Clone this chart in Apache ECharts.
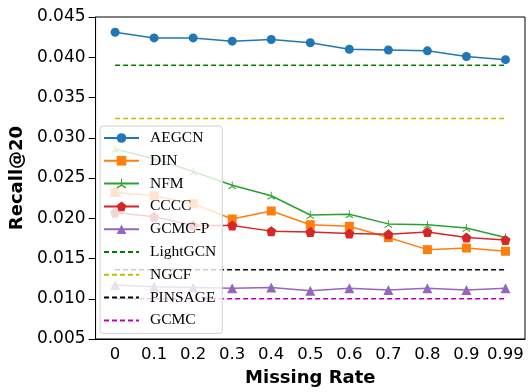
<!DOCTYPE html>
<html>
<head>
<meta charset="utf-8">
<script src="https://cdn.jsdelivr.net/npm/echarts@6/dist/echarts.min.js"></script>
<style>
  html, body { margin: 0; padding: 0; background: #fff; }
  #main { width: 528px; height: 392px; }
</style>
</head>
<body>
<div id="main"></div>
<script>
var RATES = ['0', '0.1', '0.2', '0.3', '0.4', '0.5', '0.6', '0.7', '0.8', '0.9', '0.99'];
var AEGCN = [0.0431, 0.0424, 0.0424, 0.0420, 0.0422, 0.0418, 0.0410, 0.0409, 0.0408, 0.0401, 0.0397];
var DIN = [0.0232, 0.0228, 0.0218, 0.0199, 0.0209, 0.0192, 0.0190, 0.0176, 0.0161, 0.0163, 0.0159];
var NFM = [0.0286, 0.0274, 0.0258, 0.0241, 0.0228, 0.0204, 0.0205, 0.0193, 0.0192, 0.0188, 0.0176];
var CCCC = [0.0207, 0.0202, 0.0191, 0.0191, 0.0184, 0.0183, 0.0181, 0.0180, 0.0183, 0.0176, 0.0173];
var GCMCP = [0.0117, 0.0115, 0.0114, 0.0113, 0.0114, 0.0110, 0.0113, 0.0111, 0.0113, 0.0111, 0.0113];
var LIGHTGCN = [0.0390, 0.0390, 0.0390, 0.0390, 0.0390, 0.0390, 0.0390, 0.0390, 0.0390, 0.0390, 0.0390];
var NGCF = [0.0324, 0.0324, 0.0324, 0.0324, 0.0324, 0.0324, 0.0324, 0.0324, 0.0324, 0.0324, 0.0324];
var PINSAGE = [0.0136, 0.0136, 0.0136, 0.0136, 0.0136, 0.0136, 0.0136, 0.0136, 0.0136, 0.0136, 0.0136];
var GCMC = [0.0100, 0.0100, 0.0100, 0.0100, 0.0100, 0.0100, 0.0100, 0.0100, 0.0100, 0.0100, 0.0100];

// matplotlib style markers
var PENTAGON = 'path://M0,-1 L0.951,-0.309 L0.588,0.809 L-0.588,0.809 L-0.951,-0.309 Z';
var TRI = 'path://M-0.1,0 L-0.1,-1 L0.1,-1 L0.1,0 L0.92,0.42 L0.82,0.6 L0,0.18 L-0.82,0.6 L-0.92,0.42 Z';

function solid(name, data, color, symbol, size) {
    return {
        name: name,
        type: 'line',
        data: data,
        symbol: symbol,
        symbolSize: size,
        showSymbol: true,
        lineStyle: { color: color, width: 1.5 },
        itemStyle: { color: color },
        emphasis: { disabled: true }
    };
}

function dashed(name, data, color) {
    return {
        name: name,
        type: 'line',
        data: data,
        symbol: 'none',
        lineStyle: { color: color, width: 1.5, type: [5, 3] },
        itemStyle: { color: color },
        emphasis: { disabled: true }
    };
}

var chart = echarts.init(document.getElementById('main'));
chart.setOption({
    animation: false,
    grid: {
        left: 92, right: 3, top: 17, bottom: 52,
        show: true, borderColor: '#000', borderWidth: 1, backgroundColor: 'transparent'
    },
    legend: {
        orient: 'vertical',
        left: 100, top: 126,
        itemWidth: 35, itemHeight: 12,
        itemGap: 6.8,
        padding: [4, 6, 5, 3],
        backgroundColor: 'rgba(255,255,255,0.8)',
        borderColor: '#d0d0d0', borderWidth: 1, borderRadius: 3,
        textStyle: { fontFamily: 'Liberation Serif', fontSize: 15.5, color: '#000', padding: [0, 0, 0, 6], lineHeight: 12 },
        data: [
            'AEGCN', 'DIN', 'NFM', 'CCCC', 'GCMC-P',
            { name: 'LightGCN', itemStyle: { opacity: 0 } },
            { name: 'NGCF', itemStyle: { opacity: 0 } },
            { name: 'PINSAGE', itemStyle: { opacity: 0 } },
            { name: 'GCMC', itemStyle: { opacity: 0 } }
        ]
    },
    xAxis: {
        type: 'category',
        data: RATES,
        boundaryGap: true,
        name: 'Missing Rate',
        nameLocation: 'middle',
        nameGap: 30,
        nameTextStyle: { fontFamily: 'DejaVu Sans', fontWeight: 'bold', fontSize: 18, color: '#000' },
        axisLine: { lineStyle: { color: '#000', width: 1 } },
        axisTick: { alignWithLabel: true, length: 4, lineStyle: { color: '#000' } },
        axisLabel: { fontFamily: 'DejaVu Sans', fontSize: 16.5, color: '#000', margin: 7, interval: 0 },
        splitLine: { show: false }
    },
    yAxis: {
        type: 'value',
        min: 0.005, max: 0.045, interval: 0.005,
        name: 'Recall@20',
        nameLocation: 'middle',
        nameGap: 63,
        nameTextStyle: { fontFamily: 'DejaVu Sans', fontWeight: 'bold', fontSize: 18, color: '#000' },
        axisLine: { show: true, lineStyle: { color: '#000', width: 1 } },
        axisTick: { show: true, length: 7, lineStyle: { color: '#000' } },
        axisLabel: {
            fontFamily: 'DejaVu Sans', fontSize: 17, color: '#000', margin: 10,
            formatter: function (v) { return v.toFixed(3); }
        },
        splitLine: { show: false }
    },
    series: [
        solid('AEGCN', AEGCN, '#1f77b4', 'circle', 9),
        solid('DIN', DIN, '#ff7f0e', 'rect', 9),
        solid('NFM', NFM, '#2ca02c', TRI, 8),
        solid('CCCC', CCCC, '#d62728', PENTAGON, 10),
        solid('GCMC-P', GCMCP, '#9467bd', 'triangle', 10),
        dashed('LightGCN', LIGHTGCN, '#008000'),
        dashed('NGCF', NGCF, '#bfbf00'),
        dashed('PINSAGE', PINSAGE, '#000000'),
        dashed('GCMC', GCMC, '#bf00bf')
    ]
});
</script>
</body>
</html>
